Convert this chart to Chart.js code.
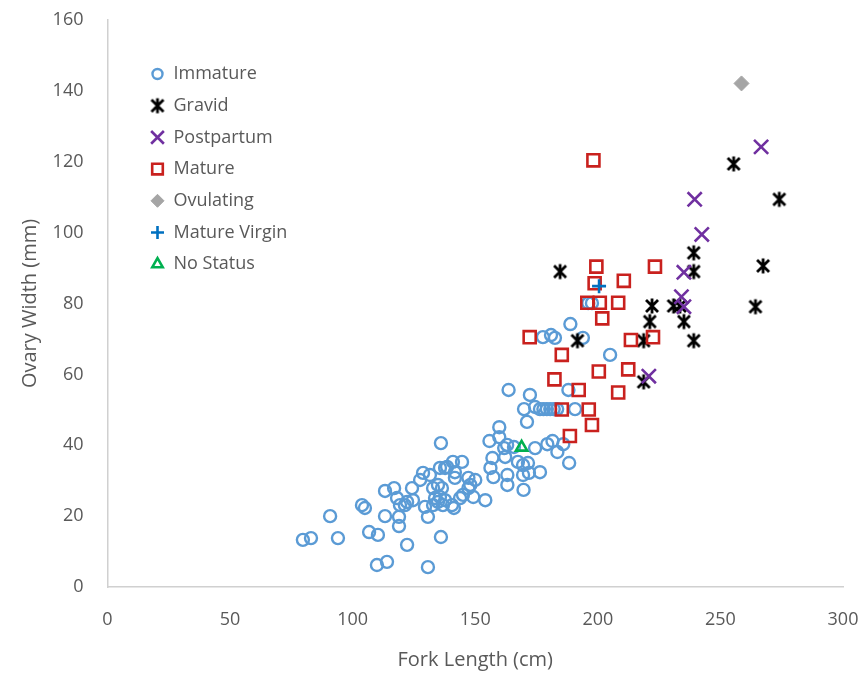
<!DOCTYPE html>
<html>
<head>
<meta charset="utf-8">
<script src="https://cdn.jsdelivr.net/npm/chart.js@4"></script>
<style>
  html, body { margin: 0; padding: 0; background: #fff; }
  #wrap { width: 867px; height: 678px; position: relative; }
</style>
</head>
<body>
<div id="wrap"><canvas id="chart"></canvas></div>
<script>
// Fork length (cm) / ovary width (mm) per maturity status
const immatureLength = [79.7, 83.0, 90.8, 94.0, 103.8, 105.0, 106.7, 110.3, 109.9, 114.0, 122.2, 130.7, 136.0, 113.2, 113.2, 116.9, 118.9, 118.9, 118.1, 119.3,
  121.3, 122.2, 124.2, 124.6, 127.5, 128.7, 131.5, 129.5, 130.7, 132.8, 134.8, 136.4, 135.6, 133.6, 134.8, 132.8, 135.6, 138.5, 140.9, 144.6,
  141.7, 140.5, 137.7, 143.8, 145.0, 147.2, 150.0, 147.2, 149.2, 141.3, 136.0, 154.1, 148.0, 137.7, 141.7, 136.8, 155.8, 159.8, 159.8, 163.0,
  161.8, 165.8, 174.4, 162.2, 157.0, 156.2, 167.4, 169.5, 171.5, 176.4, 157.4, 163.1, 169.5, 171.9, 169.7, 163.1, 163.6, 171.1, 169.9, 174.4,
  172.3, 176.4, 177.8, 179.2, 180.6, 182.0, 183.4, 190.7, 188.0, 188.8, 177.6, 180.9, 182.5, 193.9, 205.0, 196.1, 197.6, 179.4, 181.5, 183.5,
  185.9, 188.3]
const immatureWidth = [13.3, 13.8, 20.0, 13.8, 23.1, 22.3, 15.5, 14.7, 6.2, 7.1, 11.9, 5.6, 14.1, 20.0, 27.1, 27.9, 19.8, 17.2, 25.1, 23.1,
  23.1, 24.0, 27.9, 24.5, 30.2, 32.2, 31.6, 22.6, 19.8, 27.9, 28.8, 27.9, 25.4, 25.1, 24.0, 23.1, 33.6, 33.9, 35.3, 35.3,
  30.8, 23.1, 24.5, 25.1, 26.0, 30.8, 30.2, 27.9, 25.4, 22.3, 40.6, 24.5, 28.8, 33.6, 32.4, 23.1, 41.2, 45.1, 42.3, 40.1,
  39.2, 39.5, 39.2, 36.7, 36.4, 33.6, 35.3, 34.4, 35.0, 32.4, 31.0, 31.6, 31.6, 32.2, 27.4, 28.8, 55.6, 46.6, 50.2, 50.8,
  54.2, 50.2, 50.2, 50.2, 50.2, 50.2, 50.2, 50.2, 55.6, 74.2, 70.5, 71.1, 70.3, 70.3, 65.5, 80.1, 80.1, 40.3, 41.2, 38.1,
  40.3, 35.0]

const gravidLength = [255.4, 274.0, 239.1, 239.1, 184.6, 267.4, 222.1, 230.9, 233.5, 264.3, 221.2, 235.1, 191.7, 218.7, 239.1, 218.7]
const gravidWidth = [119.4, 109.4, 94.3, 89.0, 89.0, 90.6, 79.3, 79.3, 79.3, 79.1, 74.9, 74.9, 69.5, 69.5, 69.5, 57.9]

const postpartumLength = [266.6, 239.5, 242.4, 235.1, 234.1, 235.1, 220.8]
const postpartumWidth = [124.2, 109.4, 99.5, 88.8, 81.9, 79.1, 59.5]

const matureLength = [198.2, 199.4, 223.3, 210.6, 198.7, 195.7, 200.8, 208.3, 201.8, 172.2, 213.5, 222.5, 185.3, 200.4, 212.4, 182.3,
  192.2, 208.3, 185.3, 196.3, 197.6, 188.6]
const matureWidth = [120.4, 90.4, 90.4, 86.4, 85.7, 80.2, 80.2, 80.2, 75.8, 70.5, 69.7, 70.5, 65.5, 60.8, 61.4, 58.6,
  55.6, 54.9, 50.1, 50.1, 45.7, 42.6]

const ovulatingLength = [258.6]
const ovulatingWidth = [142.1]

const virginLength = [200.5]
const virginWidth = [84.9]

const noStatusLength = [168.9]
const noStatusWidth = [39.4]

const xTicks = [0, 50, 100, 150, 200, 250, 300]
const yTicks = [0, 20, 40, 60, 80, 100, 120, 140, 160]

const textColor = '#595959'
const fontFamily = '"Open Sans", sans-serif'

function toPoints(xs, ys) {
  return xs.map((x, i) => ({ x: x, y: ys[i] }))
}

// Excel style "star" marker: an X with a vertical bar
function gravidMarker() {
  const c = document.createElement('canvas')
  c.width = 18
  c.height = 18
  const g = c.getContext('2d')
  g.strokeStyle = '#000'
  g.lineWidth = 2.8
  g.lineCap = 'butt'
  g.beginPath()
  g.moveTo(3, 3); g.lineTo(15, 15)
  g.moveTo(15, 3); g.lineTo(3, 15)
  g.moveTo(9, 1.5); g.lineTo(9, 16.5)
  g.stroke()
  return c
}

const starImg = gravidMarker()

function series(label, xs, ys, style, order) {
  return Object.assign({
    label: label,
    data: toPoints(xs, ys),
    showLine: false,
    order: order
  }, style)
}

const datasets = [
  series('Immature', immatureLength, immatureWidth, {
    pointStyle: 'circle', pointRadius: 6, pointBorderWidth: 2.4,
    borderColor: '#5B9BD5', backgroundColor: 'rgba(0,0,0,0)', legendRadius: 5
  }, 6),
  series('Gravid', gravidLength, gravidWidth, {
    pointStyle: starImg, pointRadius: 9, pointBorderWidth: 0,
    borderColor: '#000', backgroundColor: '#000', legendRadius: 7
  }, 5),
  series('Postpartum', postpartumLength, postpartumWidth, {
    pointStyle: 'crossRot', pointRadius: 10, pointBorderWidth: 2.6,
    borderColor: '#7030A0', backgroundColor: '#7030A0', legendRadius: 9
  }, 4),
  series('Mature', matureLength, matureWidth, {
    pointStyle: 'rect', pointRadius: 8.5, pointBorderWidth: 2.6,
    borderColor: '#C9211E', backgroundColor: 'rgba(0,0,0,0)', legendRadius: 7.5
  }, 3),
  series('Ovulating', ovulatingLength, ovulatingWidth, {
    pointStyle: 'rectRot', pointRadius: 7.5, pointBorderWidth: 1,
    borderColor: '#A5A5A5', backgroundColor: '#A5A5A5', legendRadius: 6.5
  }, 2),
  series('Mature Virgin', virginLength, virginWidth, {
    pointStyle: 'cross', pointRadius: 7, pointBorderWidth: 2.6,
    borderColor: '#0070C0', backgroundColor: '#0070C0', legendRadius: 6.5
  }, 1),
  series('No Status', noStatusLength, noStatusWidth, {
    pointStyle: 'triangle', pointRadius: 6.5, pointBorderWidth: 2.6,
    borderColor: '#00B050', backgroundColor: 'rgba(0,0,0,0)', legendRadius: 6
  }, 0)
]

// legend sits inside the plot, top left, like the Excel original
const insideLegend = {
  id: 'insideLegend',
  afterDraw(chart) {
    const ctx = chart.ctx
    const area = chart.chartArea
    const markerX = area.left + 50
    const textX = area.left + 66
    let y = area.top + 54
    ctx.save()
    ctx.font = '18px ' + fontFamily
    ctx.textBaseline = 'middle'
    ctx.textAlign = 'left'
    chart.data.datasets.forEach(ds => {
      ctx.strokeStyle = ds.borderColor
      ctx.fillStyle = ds.backgroundColor
      ctx.lineWidth = ds.pointBorderWidth
      Chart.helpers.drawPoint(ctx, {
        pointStyle: ds.pointStyle,
        radius: ds.legendRadius,
        borderWidth: ds.pointBorderWidth,
        rotation: 0
      }, markerX, y)
      ctx.fillStyle = textColor
      ctx.fillText(ds.label, textX, y)
      y += 31.7
    })
    ctx.restore()
  }
}

new Chart(document.getElementById('chart'), {
  type: 'scatter',
  data: { datasets: datasets },
  plugins: [insideLegend],
  options: {
    responsive: true,
    maintainAspectRatio: false,
    animation: false,
    layout: { padding: { top: 20, right: 24, left: 0, bottom: 0 } },
    plugins: {
      legend: { display: false },
      tooltip: { enabled: false }
    },
    scales: {
      x: {
        type: 'linear',
        min: xTicks[0],
        max: xTicks[xTicks.length - 1],
        afterBuildTicks: scale => { scale.ticks = xTicks.map(v => ({ value: v })) },
        afterFit: scale => {
          scale.height = 91
          scale.paddingLeft = 0
          scale.paddingRight = 0
        },
        grid: { display: false, drawTicks: false },
        border: { display: true, color: '#D0D0D0', width: 1.5 },
        ticks: { color: textColor, font: { family: fontFamily, size: 18 }, padding: 22 },
        title: {
          display: true,
          text: 'Fork Length (cm)',
          color: textColor,
          font: { family: fontFamily, size: 20 },
          padding: { top: 0, bottom: 6 }
        }
      },
      y: {
        type: 'linear',
        min: yTicks[0],
        max: yTicks[yTicks.length - 1],
        afterBuildTicks: scale => { scale.ticks = yTicks.map(v => ({ value: v })) },
        afterFit: scale => {
          scale.width = 107.5
          scale.paddingTop = 0
          scale.paddingBottom = 0
        },
        grid: { display: false, drawTicks: false },
        border: { display: true, color: '#D0D0D0', width: 1.5 },
        ticks: { color: textColor, font: { family: fontFamily, size: 18 }, padding: 24 },
        title: {
          display: true,
          text: 'Ovary Width (mm)',
          color: textColor,
          font: { family: fontFamily, size: 20 },
          padding: { top: 18, bottom: 0 }
        }
      }
    }
  }
})
</script>
</body>
</html>
